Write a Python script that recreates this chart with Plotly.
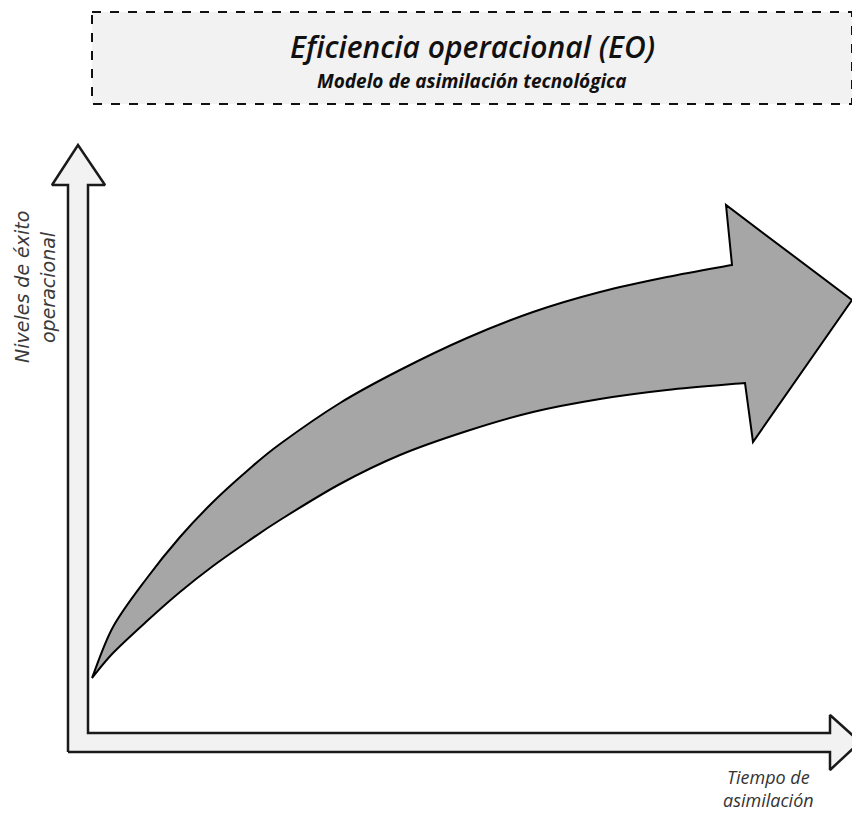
import plotly.graph_objects as go

# Diagram data (pixel space of the 860x816 canvas)
title_text = "Eficiencia operacional (EO)"
subtitle_text = "Modelo de asimilación tecnológica"
y_label = ["Niveles de éxito", "operacional"]
x_label = ["Tiempo de", "asimilación"]

# Upper edge of the curved arrow (from tail tip to head notch)
upper_x = [92, 113, 147, 180, 213, 247, 280, 340, 400, 467, 533, 600, 667, 732]
upper_y = [678, 627, 578, 537, 502, 471, 444, 403, 370, 338, 312, 292, 277, 265]
# Arrow head outline
head_x = [726, 852, 753, 745]
head_y = [205, 300, 442, 383]
# Lower edge of the curved arrow (from tail tip to head notch)
lower_x = [92, 113, 147, 180, 213, 247, 280, 340, 400, 467, 533, 600, 667, 745]
lower_y = [678, 653, 621, 592, 566, 542, 520, 484, 455, 431, 412, 399, 390, 383]

# L-shaped double-headed axis arrow outline
axis_x = [68, 830, 830, 860, 830, 830, 88, 88, 105, 78, 52, 68, 68]
axis_y = [752, 752, 770, 742, 715, 733, 733, 185, 185, 145, 185, 185, 752]

# Title box
box = dict(x0=92, x1=852, y0=12, y1=104)


def smooth_segments(xs, ys):
    """Catmull-Rom curve through the given points as SVG cubic segments."""
    pts = list(zip(xs, ys))
    out = []
    n = len(pts)
    for i in range(n - 1):
        p0 = pts[max(i - 1, 0)]
        p1 = pts[i]
        p2 = pts[i + 1]
        p3 = pts[min(i + 2, n - 1)]
        c1 = (p1[0] + (p2[0] - p0[0]) / 6, p1[1] + (p2[1] - p0[1]) / 6)
        c2 = (p2[0] - (p3[0] - p1[0]) / 6, p2[1] - (p3[1] - p1[1]) / 6)
        out.append(f"C {c1[0]:.2f},{c1[1]:.2f} {c2[0]:.2f},{c2[1]:.2f} {p2[0]},{p2[1]}")
    return " ".join(out)


path = f"M {upper_x[0]},{upper_y[0]} " + smooth_segments(upper_x, upper_y)
for hx, hy in zip(head_x, head_y):
    path += f" L {hx},{hy}"
path += " " + smooth_segments(lower_x[::-1], lower_y[::-1]) + " Z"

fig = go.Figure()
fig.add_trace(go.Scatter(x=axis_x, y=axis_y, mode="lines", fill="toself",
                         fillcolor="#f2f2f2", line=dict(color="#1a1a1a", width=2.5),
                         hoverinfo="skip", showlegend=False))

fig.add_shape(type="path", xref="x", yref="y", path=path,
              fillcolor="#a6a6a6", line=dict(color="#000000", width=2),
              layer="above")

fig.add_shape(type="rect", xref="x", yref="y", **box,
              line=dict(color="#111111", width=2, dash="dash"),
              fillcolor="#f2f2f2", layer="below")

cx = (box["x0"] + box["x1"]) / 2
fig.add_annotation(x=cx, y=46, xref="x", yref="y",
                   text=title_text, showarrow=False,
                   font=dict(family="Open Sans", size=30, color="#111111",
                             style="italic", weight=600))
fig.add_annotation(x=cx, y=81, xref="x", yref="y",
                   text=subtitle_text, showarrow=False,
                   font=dict(family="Open Sans", size=19, color="#111111",
                             style="italic", weight="bold"))

fig.add_annotation(x=22, y=287, xref="x", yref="y", text=y_label[0], textangle=-90,
                   showarrow=False,
                   font=dict(family="DejaVu Sans", size=19, color="#3a3a3a", style="italic"))
fig.add_annotation(x=48, y=287, xref="x", yref="y", text=y_label[1], textangle=-90,
                   showarrow=False,
                   font=dict(family="DejaVu Sans", size=19, color="#3a3a3a", style="italic"))

fig.add_annotation(x=768, y=788, xref="x", yref="y", text="<br>".join(x_label),
                   showarrow=False, borderpad=0,
                   font=dict(family="Open Sans", size=18, color="#333333", style="italic"))

# The page body adds an 8px margin; the axes ranges compensate for it
fig.update_layout(
    width=852, height=808,
    margin=dict(l=0, r=0, t=0, b=0),
    paper_bgcolor="white", plot_bgcolor="white",
    xaxis=dict(range=[8, 860], visible=False, fixedrange=True),
    yaxis=dict(range=[816, 8], visible=False, fixedrange=True),
    showlegend=False,
)

fig.write_html("out.html")
